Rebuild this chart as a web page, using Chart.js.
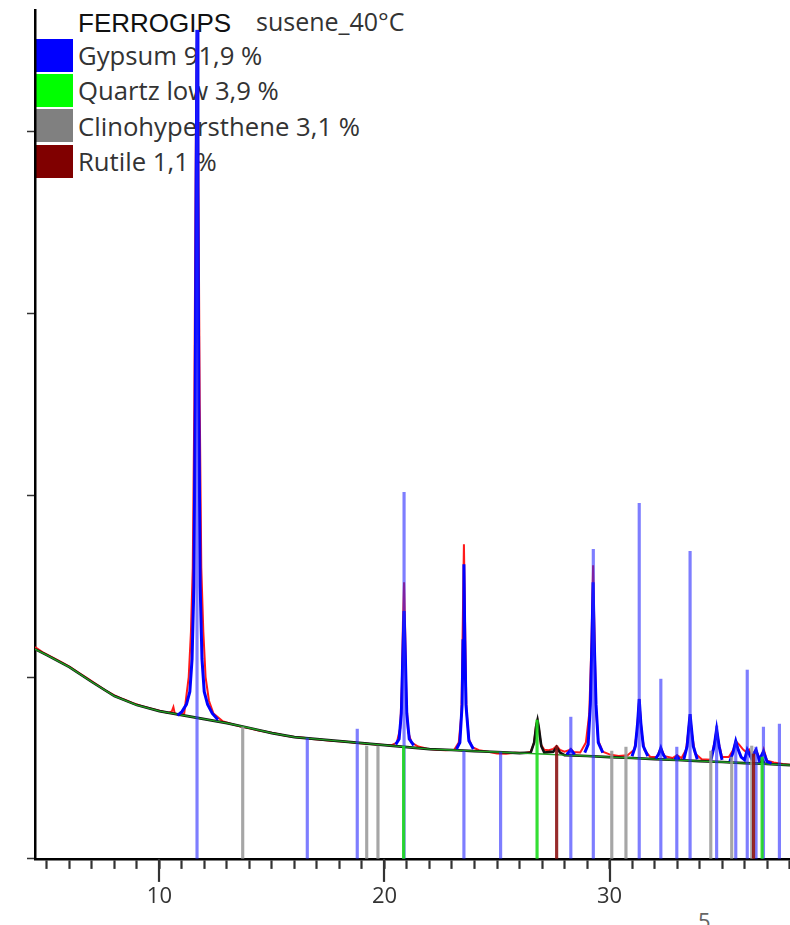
<!DOCTYPE html>
<html>
<head>
<meta charset="utf-8">
<script src="https://cdn.jsdelivr.net/npm/chart.js@4.4.1/dist/chart.umd.min.js"></script>
<style>
html,body{margin:0;padding:0;background:#fff;width:790px;height:925px;overflow:hidden;}
#wrap{position:relative;width:790px;height:925px;overflow:hidden;}
#chart{position:absolute;left:0;top:0;z-index:2;}
.lg{position:absolute;z-index:1;white-space:nowrap;}
.item{font-family:"Open Sans",sans-serif;font-size:25.7px;line-height:34px;color:#333;left:78px;}
.box{position:absolute;z-index:1;left:36px;width:37px;height:33px;}
</style>
</head>
<body>
<div id="wrap">
  <div class="lg" style="left:78px;top:8px;font-family:'Liberation Sans',Arial,sans-serif;font-size:26px;line-height:30px;color:#111;">FERROGIPS</div>
  <div class="lg" style="left:256px;top:6px;font-family:'Open Sans',sans-serif;font-size:25px;line-height:30px;color:#333;">susene_40°C</div>
  <div class="box" style="top:39px;background:#0000ff;"></div>
  <div class="box" style="top:74px;background:#00ff00;"></div>
  <div class="box" style="top:109px;background:#808080;"></div>
  <div class="box" style="top:145px;background:#800000;"></div>
  <div class="lg item" style="top:39px;">Gypsum 91,9 %</div>
  <div class="lg item" style="top:74px;">Quartz low 3,9 %</div>
  <div class="lg item" style="top:110px;">Clinohypersthene 3,1 %</div>
  <div class="lg item" style="top:145px;">Rutile 1,1 %</div>
  <div class="lg" style="left:698px;top:905px;font-family:'Open Sans',sans-serif;font-size:22px;line-height:30px;color:#666;">5</div>
  <canvas id="chart" width="790" height="925"></canvas>
</div>
<script>
// ---- axis ----
const xMin = 4.47, xMax = 38.02;
const yMin = 0, yMax = 4670;
const xTickValues = [5,6,7,8,9,10,11,12,13,14,15,16,17,18,19,20,21,22,23,24,25,26,27,28,29,30,31,32,33,34,35,36,37,38];
const xTickLabels = [10,20,30];
const yTickValues = [0,1000,2000,3000,4000];

// ---- observed pattern (red) ----
const obsX = [4.47,4.8,5.2,5.6,6.0,6.4,6.8,7.2,7.6,8.0,8.4,8.8,9.2,9.6,10.0,10.4,10.55,10.62,10.68,10.9,11.1,11.3,11.4,11.48,11.55,11.62,11.67,11.72,11.79,11.86,11.95,12.05,12.2,12.4,12.8,13.2,13.6,14.0,14.4,14.8,15.2,15.6,16.0,16.4,16.8,17.2,17.6,18.0,18.4,18.8,19.2,19.6,20.0,20.3,20.55,20.7,20.77,20.82,20.87,20.92,20.97,21.05,21.2,21.5,21.9,22.3,22.7,23.1,23.3,23.42,23.48,23.53,23.58,23.64,23.75,23.9,24.2,24.6,25.0,25.4,25.8,26.2,26.5,26.65,26.74,26.8,26.86,26.95,27.1,27.3,27.5,27.65,27.8,28.0,28.2,28.28,28.4,28.7,28.95,29.1,29.2,29.27,29.33,29.4,29.5,29.7,30.0,30.4,30.8,31.1,31.22,31.32,31.42,31.55,31.8,32.1,32.28,32.45,32.8,33.0,33.2,33.4,33.5,33.58,33.66,33.8,34.1,34.5,34.68,34.76,34.85,35.0,35.3,35.5,35.61,35.75,35.95,36.1,36.2,36.3,36.5,36.7,36.85,37.0,37.3,37.7,38.02];
const obsY = [1165,1138,1112,1085,1058,1025,993,960,927,900,878,858,842,828,815,803,812,835,800,790,800,1000,1250,1600,2500,4000,4560,4000,2500,1600,1250,1000,870,800,758,742,728,718,706,698,688,678,670,666,660,656,650,647,643,638,634,630,627,625,640,720,950,1300,1522,1250,880,700,640,618,606,600,598,600,640,800,1300,1731,1300,820,660,615,598,590,580,578,584,582,590,640,740,764,720,630,600,598,605,621,600,590,598,605,588,585,640,800,1200,1615,1250,820,650,590,575,566,570,600,700,880,700,600,562,560,610,565,555,570,555,600,700,797,690,580,548,545,650,714,640,560,560,600,648,630,600,585,600,565,600,545,604,540,530,522,518];

// ---- gypsum calculated profile (blue), gaps between peaks ----
const gypX = [10.8,11.0,11.2,11.35,11.45,11.53,11.59,11.63,11.67,11.71,11.75,11.81,11.89,11.99,12.14,12.35,12.6,12.61,
  20.5,20.65,20.75,20.81,20.87,20.93,20.99,21.1,21.3,21.31,
  23.2,23.35,23.45,23.49,23.53,23.57,23.62,23.75,23.95,23.96,
  28.1,28.28,28.45,28.46,
  28.9,29.05,29.15,29.22,29.27,29.32,29.4,29.5,29.7,29.71,
  31.0,31.15,31.25,31.32,31.39,31.5,31.7,31.71,
  32.05,32.18,32.28,32.38,32.5,32.51,
  32.9,33.0,33.1,33.11,
  33.3,33.45,33.52,33.58,33.64,33.72,33.9,33.91,
  34.5,34.65,34.76,34.87,35.0,35.01,
  35.35,35.5,35.61,35.72,35.85,36.0,36.12,36.3,36.51,36.65,36.84,37.0,37.2];
const gypY = [790,810,850,920,1100,1500,2500,3700,4560,3700,2500,1500,1100,920,850,800,765,null,
  630,660,800,1100,1363,1100,800,660,625,null,
  605,640,850,1200,1621,1200,850,650,605,null,
  575,600,575,null,
  585,630,850,1200,1522,1200,850,640,585,null,
  565,620,750,879,750,620,565,null,
  552,575,610,575,552,null,
  548,565,548,null,
  548,620,720,797,720,620,548,null,
  540,620,714,620,545,null,
  537,590,648,600,560,545,600,555,600,545,590,535,525];

// ---- total calculated (black) ----
const calcX = [4.47,5,6,7,8,9,10,11,12,13,14,15,16,17,18,19,20,21,22,23,24,25,26,26.5,26.65,26.74,26.8,26.86,26.97,27.1,27.5,27.65,27.8,28,29,30,31,32,33,34,35,36,36.7,36.8,36.9,37,38.02];
const calcY = [1154,1121,1055,973,896,846,813,791,769,747,720,692,670,659,648,637,626,615,604,599,593,588,582,585,640,730,764,720,620,585,590,615,585,571,566,560,555,549,544,538,533,527,524,545,523,522,516];

// ---- background (green) ----
const bgX = [4.47,5,6,7,8,9,10,11,12,13,14,15,16,17,18,19,20,21,22,23,24,25,26,27,28,29,30,31,32,33,34,35,36,37,38.02];
const bgY = [1154,1121,1055,973,896,846,813,791,769,747,720,692,670,659,648,637,626,615,604,599,593,588,582,577,571,566,560,555,549,544,538,533,527,522,516];

// ---- reference sticks ----
const gypStickX = [11.67,16.57,18.79,20.87,23.53,25.16,28.28,29.28,31.32,32.28,32.99,33.58,34.76,35.61,36.12,36.51,36.84,37.55];
const gypStickY = [4560,665,714,2017,593,588,780,1703,1956,989,615,1692,731,648,1039,615,725,742];
const qtzStickX = [20.85,26.78,36.78];
const qtzStickY = [621,764,560];
const cpxStickX = [13.70,19.21,19.71,30.10,30.73,34.50,35.43,36.32];
const cpxStickY = [725,621,621,593,615,593,560,621];
const rutStickX = [27.65,36.40];
const rutStickY = [621,577];

const pts = (xs, ys) => xs.map((x, i) => ({x: x, y: ys[i]}));

function lineDs(xs, ys, color, width, order) {
  return {type:'line', data: pts(xs, ys), borderColor: color, borderWidth: width,
    pointRadius: 0, pointHoverRadius: 0, pointHitRadius: 0, tension: 0, fill: false, spanGaps: false, order: order};
}
function stickDs(xs, ys, color, order) {
  return {type:'bar', data: pts(xs, ys), backgroundColor: color, borderWidth: 0,
    barThickness: 2.5, grouped: false, order: order};
}

const majorTicks = {
  id: 'majorTicks',
  afterDraw(chart) {
    const xs = chart.scales.x, ctx = chart.ctx, y0 = chart.chartArea.bottom;
    ctx.save();
    ctx.strokeStyle = '#333';
    ctx.lineWidth = 2.2;
    xTickLabels.forEach(v => {
      const px = Math.round(xs.getPixelForValue(v));
      ctx.beginPath(); ctx.moveTo(px, y0); ctx.lineTo(px, y0 + 23); ctx.stroke();
    });
    ctx.restore();
  }
};

new Chart(document.getElementById('chart'), {
  type: 'line',
  data: {
    datasets: [
      stickDs(qtzStickX, qtzStickY, 'rgba(30,220,30,0.9)', 0),
      stickDs(rutStickX, rutStickY, 'rgba(140,20,20,0.9)', 1),
      stickDs(gypStickX, gypStickY, 'rgba(40,40,255,0.6)', 2),
      stickDs(cpxStickX, cpxStickY, 'rgba(150,150,150,0.85)', 3),
      lineDs(gypX, gypY, '#0000ff', 3, 4),
      lineDs(bgX, bgY, '#22a022', 1.4, 5),
      lineDs(calcX, calcY, '#111111', 2.6, 6),
      lineDs(obsX, obsY, '#ff1a1a', 2, 7)
    ]
  },
  options: {
    responsive: false,
    animation: false,
    devicePixelRatio: 1,
    layout: {autoPadding: false, padding: {left: 27, top: 10, right: 0, bottom: 0}},
    plugins: {legend: {display: false}, tooltip: {enabled: false}},
    scales: {
      x: {
        type: 'linear', min: xMin, max: xMax, offset: false,
        afterBuildTicks: s => { s.ticks = xTickValues.map(v => ({value: v})); },
        grid: {drawOnChartArea: false, offset: false, tickLength: 10, tickWidth: 2.2, tickColor: '#333'},
        border: {display: true, color: '#000', width: 2.5},
        ticks: {
          autoSkip: false, maxRotation: 0, padding: 0, color: '#333',
          font: {family: 'Open Sans', size: 22, lineHeight: 2.55},
          callback: v => xTickLabels.includes(v) ? String(v) : ''
        }
      },
      y: {
        type: 'linear', min: yMin, max: yMax,
        afterBuildTicks: s => { s.ticks = yTickValues.map(v => ({value: v})); },
        grid: {drawOnChartArea: false, tickLength: 8, tickWidth: 1.5, tickColor: '#333'},
        border: {display: true, color: '#000', width: 2.5},
        ticks: {display: false, padding: 0}
      }
    }
  },
  plugins: [majorTicks]
});
</script>
</body>
</html>
